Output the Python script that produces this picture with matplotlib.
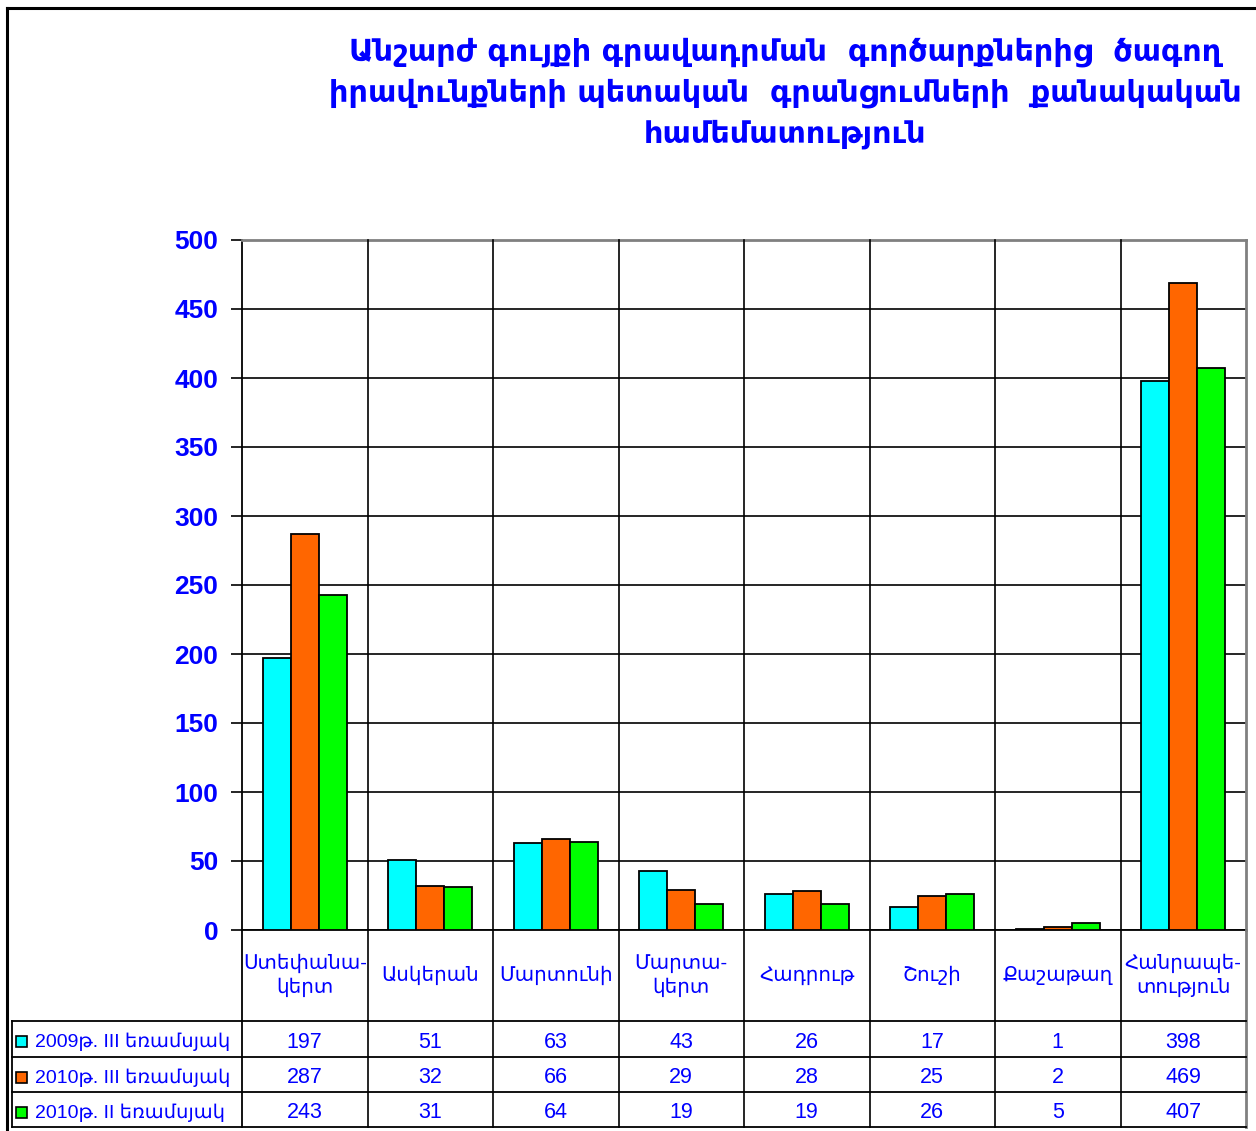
import numpy as np
import matplotlib
matplotlib.use("Agg")
import matplotlib.pyplot as plt
from matplotlib.transforms import blended_transform_factory
from matplotlib.patches import Rectangle

plt.rcParams['font.family'] = ['Liberation Sans', 'DejaVu Sans']

# ---------------------------------------------------------------- data
regions = ["Ստեփանա-\nկերտ", "Ասկերան", "Մարտունի", "Մարտա-\nկերտ",
           "Հադրութ", "Շուշի", "Քաշաթաղ", "Հանրապե-\nտություն"]
series_names = ["2009թ. III եռամսյակ", "2010թ. III եռամսյակ", "2010թ. II եռամսյակ"]
q3_2009 = [197, 51, 63, 43, 26, 17, 1, 398]
q3_2010 = [287, 32, 66, 29, 28, 25, 2, 469]
q2_2010 = [243, 31, 64, 19, 19, 26, 5, 407]
y_ticks = [0, 50, 100, 150, 200, 250, 300, 350, 400, 450, 500]
title = ("Անշարժ գույքի գրավադրման  գործարքներից  ծագող\n"
         "իրավունքների պետական  գրանցումների  քանակական\n"
         "համեմատություն")

series = [q3_2009, q3_2010, q2_2010]
colors = ['#00FFFF', '#FF6600', '#00FF00']
blue = '#0000FF'

# ---------------------------------------------------------------- figure
W, H = 1256, 1131
fig = plt.figure(figsize=(W / 100, H / 100), dpi=100)

# plot area in pixels
px_l, px_r, px_t, px_b = 242, 1246, 240, 930
ax = fig.add_axes([px_l / W, 1 - px_b / H, (px_r - px_l) / W, (px_b - px_t) / H])

x = np.arange(len(regions))
bw = 0.223
for k, (vals, c) in enumerate(zip(series, colors)):
    ax.bar(x + (k - 1) * bw, vals, bw, color=c, edgecolor='black',
           linewidth=1.3, zorder=3)

ax.set_xlim(-0.5, len(regions) - 0.5)
ax.set_ylim(y_ticks[0], y_ticks[-1])
ax.set_yticks(y_ticks)
ax.set_xticks([])
ax.yaxis.grid(True, color='black', linewidth=1.2, zorder=0)
ax.set_axisbelow(True)
ax.tick_params(axis='y', length=8, width=1.2, labelsize=19, labelcolor=blue, pad=9)
for lbl in ax.get_yticklabels():
    lbl.set_fontweight('bold')
for side in ['left', 'bottom']:
    ax.spines[side].set_color('black')
    ax.spines[side].set_linewidth(1.3)
for side in ['top', 'right']:
    ax.spines[side].set_color('#808080')
    ax.spines[side].set_linewidth(2)

# overlay in pixel coordinates for the frame and the data table
ov = fig.add_axes([0, 0, 1, 1], zorder=5)
ov.set_xlim(0, W)
ov.set_ylim(H, 0)
ov.axis('off')
ov.patch.set_visible(False)
tr = blended_transform_factory(ax.transData, ov.transData)

# outer frame
ov.plot([7, 7], [H, 8], color='black', lw=2.2, solid_capstyle='projecting')
ov.plot([7, W], [8, 8], color='black', lw=2.2)

# title
fig.text(785 / W, 1 - 37 / H, title, ha='center', va='top', color=blue,
         fontsize=21.8, fontweight='bold', linespacing=1.5, family=['DejaVu Sans'])

# table rows (pixel y)
head_top, head_bot = px_b, 1021
row_edges = [1021, 1057, 1092, 1127]
row_mid = [(a + b) / 2 for a, b in zip(row_edges[:-1], row_edges[1:])]
tab_left = 12

# column separators through plot and table
for b in np.arange(0.5, len(regions) - 0.5):
    ov.plot([b, b], [px_t, row_edges[-1]], color='black', lw=1.2, transform=tr)
ov.plot([-0.5, -0.5], [px_b, row_edges[-1]], color='black', lw=1.3, transform=tr)
ov.plot([len(regions) - 0.5] * 2, [px_b, row_edges[-1]], color='#808080', lw=2,
        transform=tr)

# horizontal table lines
for y in row_edges:
    ov.plot([tab_left, px_r], [y, y], color='black', lw=1.3)
ov.plot([tab_left, tab_left], [row_edges[0], row_edges[-1]], color='black', lw=1.3)

# header labels
for i, name in enumerate(regions):
    ov.text(i, (head_top + head_bot) / 2, name, transform=tr, ha='center',
            va='center', color=blue, fontsize=14.3, linespacing=1.3)

# legend cells and values
for r, (name, vals, c) in enumerate(zip(series_names, series, colors)):
    ym = row_mid[r] + 3
    ov.add_patch(Rectangle((16, ym - 6), 11, 11, facecolor=c, edgecolor='black', lw=1.2))
    ov.text(35, ym, name, ha='left', va='center', color=blue, fontsize=14)
    for i, v in enumerate(vals):
        ov.text(i, ym, str(v), transform=tr, ha='center', va='center',
                color=blue, fontsize=15.5)

fig.savefig('out.png', dpi=100)
